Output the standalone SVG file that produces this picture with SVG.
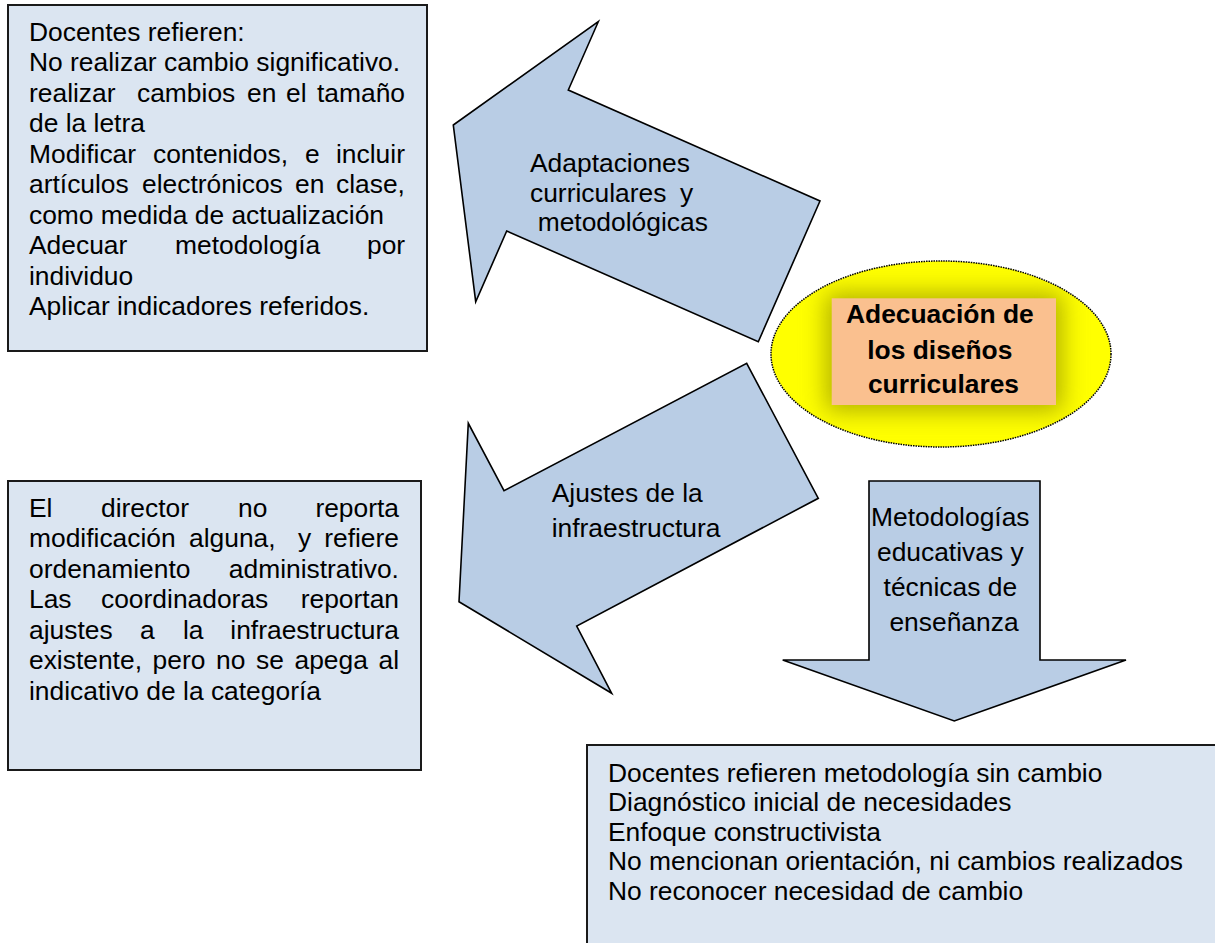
<svg xmlns="http://www.w3.org/2000/svg" width="1215" height="943" viewBox="0 0 1215 943">
<style>
.box{fill:#dbe5f1;stroke:#1a1a1a;stroke-width:2}
.arrow{fill:#b9cde5;stroke:#000;stroke-width:1.6;stroke-linejoin:miter}
.t{font-family:"Liberation Sans",Arial,sans-serif;font-size:26.4px;fill:#000}
.b{font-family:"Liberation Sans",Arial,sans-serif;font-size:26.4px;font-weight:bold;fill:#000;text-anchor:middle}
.c{text-anchor:middle}
</style>
<defs>
<clipPath id="ellClip"><ellipse cx="941" cy="354" rx="170" ry="93"/></clipPath>
<filter id="halo" x="-50%" y="-50%" width="200%" height="200%"><feGaussianBlur stdDeviation="12"/></filter>
</defs>
<rect width="1215" height="943" fill="#fff"/>

<g id="box-docentes">
<rect class="box" x="8" y="5" width="419" height="346"/>
<text class="t">
<tspan x="29" y="40.5">Docentes refieren:</tspan>
<tspan x="29" y="71">No realizar cambio significativo.</tspan>
<tspan x="29" y="101.5">realizar</tspan><tspan x="137" y="101.5">cambios</tspan><tspan x="247" y="101.5">en</tspan><tspan x="286" y="101.5">el</tspan><tspan x="317" y="101.5">tamaño</tspan>
<tspan x="29" y="132">de la letra</tspan>
<tspan x="29" y="162.5">Modificar</tspan><tspan x="153" y="162.5">contenidos,</tspan><tspan x="305" y="162.5">e</tspan><tspan x="336" y="162.5">incluir</tspan>
<tspan x="29" y="193">artículos</tspan><tspan x="142" y="193">electrónicos</tspan><tspan x="295" y="193">en</tspan><tspan x="336" y="193">clase,</tspan>
<tspan x="29" y="223.5">como medida de actualización</tspan>
<tspan x="29" y="254">Adecuar</tspan><tspan x="175" y="254">metodología</tspan><tspan x="367" y="254">por</tspan>
<tspan x="29" y="284.5">individuo</tspan>
<tspan x="29" y="315">Aplicar indicadores referidos.</tspan>
</text>
</g>

<g id="box-director">
<rect class="box" x="8" y="481" width="413" height="289"/>
<text class="t">
<tspan x="29" y="516.5">El</tspan><tspan x="101" y="516.5">director</tspan><tspan x="238" y="516.5">no</tspan><tspan x="315.4" y="516.5">reporta</tspan>
<tspan x="29" y="547">modificación</tspan><tspan x="189" y="547">alguna,</tspan><tspan x="298" y="547">y</tspan><tspan x="324.2" y="547">refiere</tspan>
<tspan x="29" y="577.5">ordenamiento</tspan><tspan x="228.8" y="577.5">administrativo.</tspan>
<tspan x="29" y="608">Las</tspan><tspan x="101" y="608">coordinadoras</tspan><tspan x="300.7" y="608">reportan</tspan>
<tspan x="29" y="638.5">ajustes</tspan><tspan x="140" y="638.5">a</tspan><tspan x="183" y="638.5">la</tspan><tspan x="230.3" y="638.5">infraestructura</tspan>
<tspan x="29" y="669">existente,</tspan><tspan x="152.6" y="669">pero</tspan><tspan x="216" y="669">no</tspan><tspan x="256" y="669">se</tspan><tspan x="294.5" y="669">apega</tspan><tspan x="378.5" y="669">al</tspan>
<tspan x="29" y="699.5">indicativo de la categoría</tspan>
</text>
</g>

<g id="box-metodologia">
<rect class="box" x="587" y="745" width="700" height="260"/>
<text class="t">
<tspan x="608" y="781.5">Docentes refieren metodología sin cambio</tspan>
<tspan x="608" y="811">Diagnóstico inicial de necesidades</tspan>
<tspan x="608" y="840.5">Enfoque constructivista</tspan>
<tspan x="608" y="870">No mencionan orientación, ni cambios realizados</tspan>
<tspan x="608" y="899.5">No reconocer necesidad de cambio</tspan>
</text>
</g>

<g id="connectors">
<g id="arrow-adaptaciones">
<polygon class="arrow" points="453.3,125 598.3,21.7 568.3,90 820,201 758.3,341.7 506.7,231 475.7,301.7"/>
<text class="t">
<tspan x="530" y="171.7">Adaptaciones</tspan>
<tspan x="530" y="201.7">curriculares</tspan><tspan x="680" y="201.7">y</tspan>
<tspan x="537.7" y="231">metodológicas</tspan>
</text>
</g>
<g id="arrow-ajustes">
<polygon class="arrow" points="746.7,363.3 818.3,498.3 576.7,626 611.7,693.3 459,601.7 468.3,423.3 504,490.7"/>
<text class="t">
<tspan x="551.7" y="501.7">Ajustes de la</tspan>
<tspan x="551.7" y="536.7">infraestructura</tspan>
</text>
</g>
<g id="arrow-metodologias">
<polygon class="arrow" points="869,481 1040,481 1040,660 1126,660 954.3,721 782.7,660 869,660"/>
<text class="t c">
<tspan x="954" y="526">Metodologías</tspan>
<tspan x="954" y="560.7">educativas y</tspan>
<tspan x="954" y="595.7">técnicas de</tspan>
<tspan x="954" y="630.7">enseñanza</tspan>
</text>
</g>
</g>

<g id="center-node">
<ellipse cx="941" cy="354" rx="170" ry="93" fill="#ffff00"/>
<g clip-path="url(#ellClip)">
<rect x="826" y="293" width="236" height="118" fill="#b0b000" filter="url(#halo)"/>
</g>
<ellipse cx="941" cy="354" rx="170" ry="93" fill="none" stroke="#000" stroke-width="1.5" stroke-dasharray="1.5 1"/>
<rect x="831.7" y="298.3" width="224.3" height="106.7" fill="#fac08f"/>
<text class="b">
<tspan x="943.5" y="323.3">Adecuación de</tspan>
<tspan x="943.5" y="359.3">los diseños</tspan>
<tspan x="943.5" y="393.3">curriculares</tspan>
</text>
</g>
</svg>
